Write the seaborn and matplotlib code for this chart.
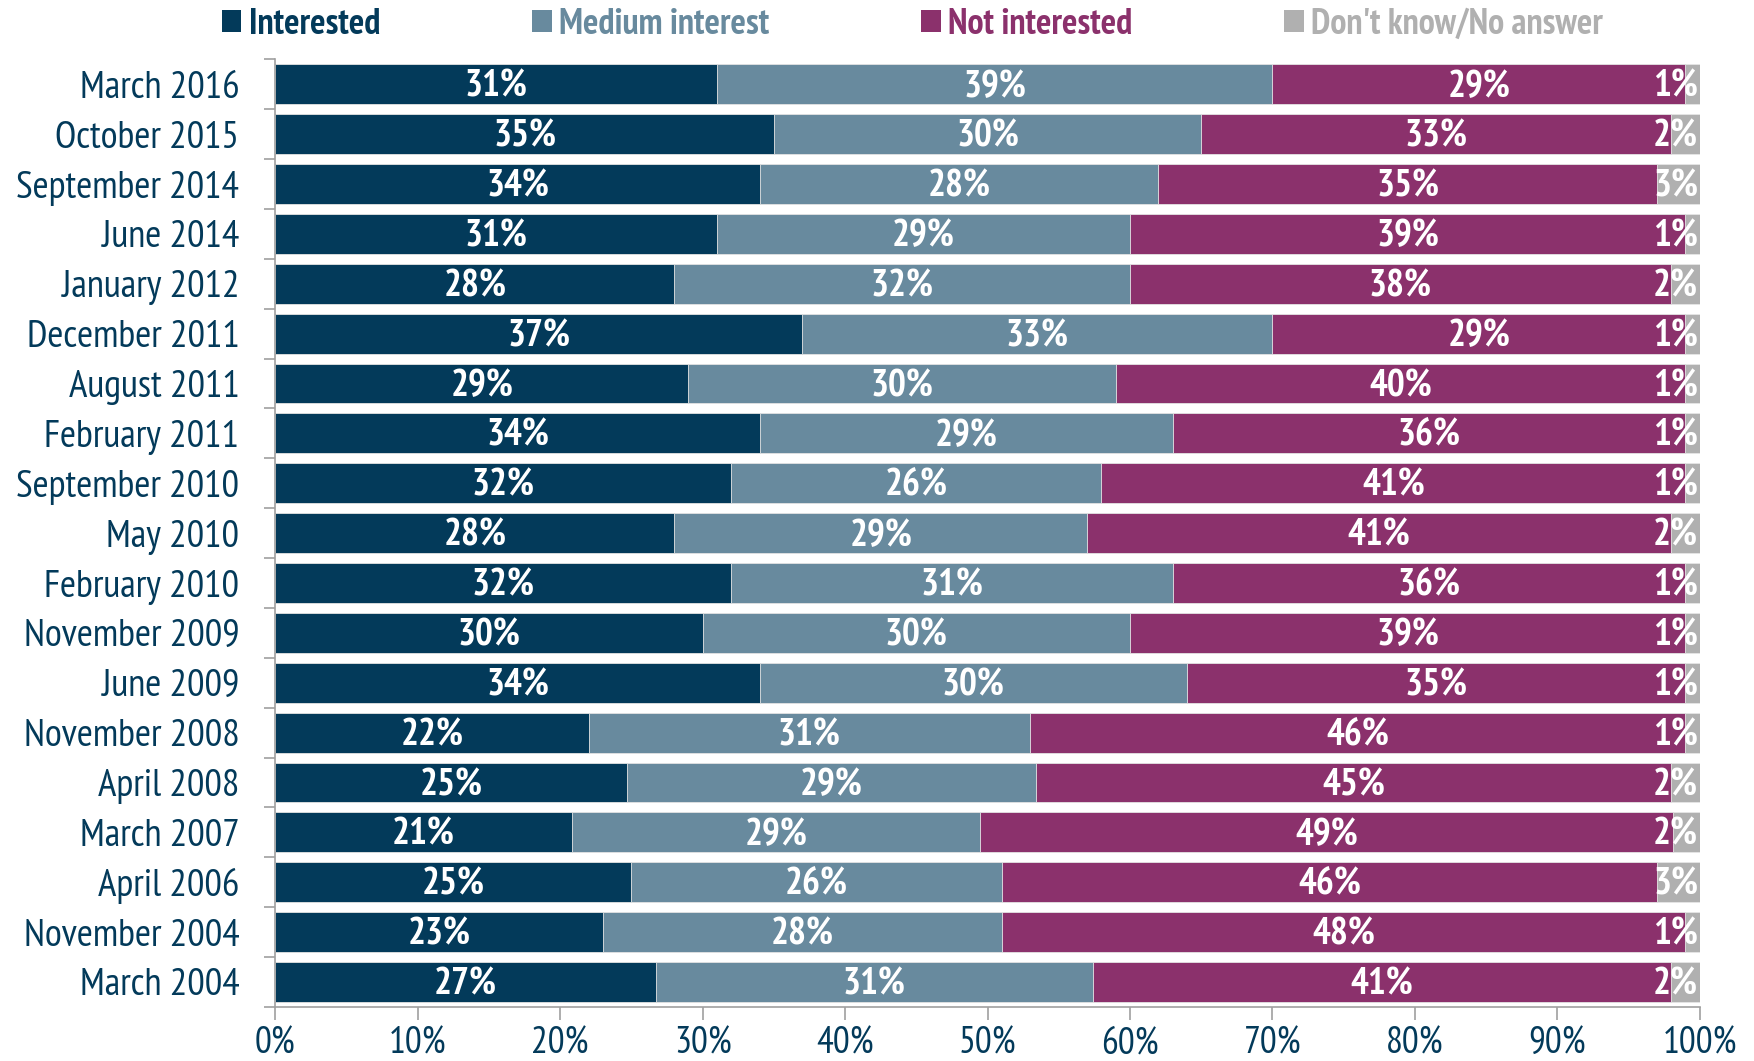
import numpy as np
import pandas as pd
import matplotlib
matplotlib.use("Agg")
import matplotlib.pyplot as plt
from matplotlib.patches import Patch
import seaborn as sns

periods = ["March 2016", "October 2015", "September 2014", "June 2014", "January 2012",
           "December 2011", "August 2011", "February 2011", "September 2010", "May 2010",
           "February 2010", "November 2009", "June 2009", "November 2008", "April 2008",
           "March 2007", "April 2006", "November 2004", "March 2004"]
interested = [31, 35, 34, 31, 28, 37, 29, 34, 32, 28, 32, 30, 34, 22, 24.7, 20.8, 25, 23, 26.7]
medium = [39, 30, 28, 29, 32, 33, 30, 29, 26, 29, 31, 30, 30, 31, 28.7, 28.7, 26, 28, 30.7]
not_interested = [29, 33, 35, 39, 38, 29, 40, 36, 41, 41, 36, 39, 35, 46, 44.6, 48.6, 46, 48, 40.6]
dont_know = [1, 2, 3, 1, 2, 1, 1, 1, 1, 2, 1, 1, 1, 1, 2.0, 1.9, 3, 1, 2.0]

series_names = ["Interested", "Medium interest", "Not interested", "Don't know/No answer"]
colors = ["#033a5a", "#688a9e", "#8b316c", "#b0b0b0"]
navy = "#033a5a"

sns.set_theme(style="white")
plt.rcParams["font.family"] = ["PT Sans Narrow", "DejaVu Sans"]

df = pd.DataFrame({"period": periods, "Interested": interested, "Medium interest": medium,
                   "Not interested": not_interested, "Don't know/No answer": dont_know})
cum = df[series_names].cumsum(axis=1)

fig = plt.figure(figsize=(17.54, 10.61), dpi=100)
ax = fig.add_axes([0.157, 0.051, 0.812, 0.893])

# stacked bars: draw cumulative totals from the back to the front
for name, col in reversed(list(zip(series_names, colors))):
    sns.barplot(data=cum.assign(period=df["period"]), x=name, y="period", orient="h",
                color=col, width=0.8, saturation=1, ax=ax, edgecolor="#e6e6e6", linewidth=0.6)

# value labels (white, centred in each segment; last one pushed to the right end)
for i in range(len(periods)):
    left = 0
    for k, name in enumerate(series_names):
        v = df[name].iloc[i]
        if k < 3:
            ax.text(left + v / 2, i + 0.06, f"{v:.0f}%", ha="center", va="center", color="white",
                    fontsize=27, fontweight="bold")
        else:
            ax.text(left + v - 0.1, i + 0.06, f"{v:.0f}%", ha="right", va="center", color="white",
                    fontsize=27, fontweight="bold")
        left += v

ax.set_xlim(0, 100)
ax.set_ylim(len(periods) - 0.5, -0.5)
ax.set_xticks(np.arange(0, 101, 10))
ax.set_xticklabels([f"{t}%" for t in range(0, 101, 10)])
ax.set_xlabel("")
ax.set_ylabel("")
ax.set_yticks(np.arange(-0.5, len(periods), 1), minor=True)
ax.tick_params(axis="y", which="major", length=0, labelsize=28, labelcolor=navy, pad=26)
ax.tick_params(axis="y", which="minor", length=8, color="#a0a0a0", width=1.2, left=True)
ax.tick_params(axis="x", which="major", length=9, color="#a0a0a0", width=1.2, bottom=True,
               labelsize=27, labelcolor=navy, pad=5)
for s in ["top", "right"]:
    ax.spines[s].set_visible(False)
for s in ["left", "bottom"]:
    ax.spines[s].set_color("#a0a0a0")
    ax.spines[s].set_linewidth(1.2)

handles = [Patch(facecolor=c, edgecolor="none") for c in colors]
leg = fig.legend(handles, series_names, loc="center", bbox_to_anchor=(0.52, 0.977), ncol=4,
                 frameon=False, handlelength=0.55, handleheight=0.55, handletextpad=0.2,
                 columnspacing=4.2, prop={"size": 26, "weight": "bold"})
for t, c in zip(leg.get_texts(), colors):
    t.set_color(c)

fig.savefig("out.png", dpi=100)
